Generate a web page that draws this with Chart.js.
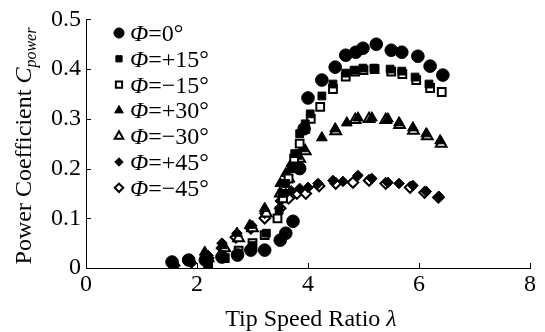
<!DOCTYPE html>
<html>
<head>
<meta charset="utf-8">
<script src="https://cdn.jsdelivr.net/npm/chart.js@4/dist/chart.umd.min.js"></script>
<style>
  html, body { margin: 0; padding: 0; background: #fff; }
  #wrap { width: 545px; height: 332px; }
</style>
</head>
<body>
<div id="wrap"><canvas id="cp"></canvas></div>
<script>
// tip speed ratio / power coefficient
const lam0   = [1.55, 1.85, 2.15, 2.45, 2.73, 2.97, 3.22, 3.5, 3.6, 3.73, 3.85, 3.93, 4.0, 4.25, 4.49, 4.68, 4.86, 4.99, 5.23, 5.5, 5.69, 5.98, 6.2, 6.43];
const cp0    = [0.012, 0.016, 0.016, 0.022, 0.026, 0.036, 0.036, 0.056, 0.07, 0.094, 0.2, 0.28, 0.342, 0.378, 0.404, 0.428, 0.434, 0.442, 0.45, 0.438, 0.434, 0.426, 0.406, 0.388];

const lamP15 = [2.2, 2.5, 2.75, 3.0, 3.25, 3.48, 3.53, 3.6, 3.7, 3.76, 3.85, 3.95, 4.04, 4.25, 4.45, 4.68, 4.83, 4.99, 5.19, 5.48, 5.69, 5.93, 6.18];
const cpP15  = [0.012, 0.02, 0.03, 0.045, 0.07, 0.116, 0.15, 0.17, 0.2, 0.23, 0.27, 0.29, 0.31, 0.346, 0.37, 0.392, 0.398, 0.402, 0.402, 0.4, 0.396, 0.384, 0.37];

const lamM15 = [2.2, 2.5, 2.75, 3.0, 3.22, 3.45, 3.55, 3.65, 3.75, 3.85, 3.95, 4.05, 4.22, 4.45, 4.68, 4.85, 5.0, 5.2, 5.5, 5.7, 5.95, 6.2, 6.41];
const cpM15  = [0.01, 0.02, 0.035, 0.05, 0.066, 0.1, 0.14, 0.18, 0.22, 0.25, 0.28, 0.3, 0.324, 0.36, 0.385, 0.395, 0.398, 0.4, 0.395, 0.39, 0.378, 0.362, 0.354];

const lamP30 = [1.6, 1.9, 2.14, 2.45, 2.72, 2.95, 3.22, 3.5, 3.6, 3.7, 3.8, 3.9, 4.25, 4.49, 4.7, 4.9, 5.15, 5.44, 5.64, 5.89, 6.13, 6.38];
const cpP30  = [0.01, 0.015, 0.032, 0.045, 0.07, 0.086, 0.12, 0.17, 0.19, 0.21, 0.225, 0.24, 0.262, 0.28, 0.292, 0.302, 0.302, 0.3, 0.292, 0.282, 0.27, 0.256];

const lamM30 = [2.2, 2.5, 2.75, 3.0, 3.25, 3.5, 3.65, 3.75, 3.85, 3.95, 4.5, 4.85, 5.1, 5.4, 5.65, 5.9, 6.15, 6.4];
const cpM30  = [0.02, 0.04, 0.06, 0.08, 0.11, 0.15, 0.18, 0.2, 0.22, 0.235, 0.275, 0.298, 0.3, 0.298, 0.288, 0.276, 0.265, 0.25];

const lamP45 = [1.6, 1.9, 2.2, 2.45, 2.72, 2.99, 3.22, 3.5, 3.6, 3.7, 3.85, 4.0, 4.18, 4.45, 4.63, 4.9, 5.15, 5.44, 5.64, 5.89, 6.13, 6.36];
const cpP45  = [0.005, 0.01, 0.025, 0.05, 0.07, 0.085, 0.11, 0.135, 0.15, 0.155, 0.16, 0.162, 0.17, 0.176, 0.174, 0.186, 0.18, 0.172, 0.17, 0.166, 0.154, 0.144];

const lamM45 = [2.2, 2.45, 2.7, 2.97, 3.22, 3.5, 3.65, 3.8, 3.96, 4.2, 4.5, 4.81, 5.1, 5.4, 5.84, 6.1, 6.35];
const cpM45  = [0.02, 0.04, 0.062, 0.08, 0.1, 0.12, 0.14, 0.15, 0.15, 0.165, 0.17, 0.172, 0.176, 0.17, 0.162, 0.152, 0.142];

const labels = ['=0°', '=+15°', '=\u221215°', '=+30°', '=\u221230°', '=+45°', '=\u221245°'];
const xTicks = [0, 2, 4, 6, 8];
const yTicks = [0, 0.1, 0.2, 0.3, 0.4, 0.5];

const serif = '"Liberation Serif", "DejaVu Serif", serif';

function pts(xs, ys) { return xs.map((x, i) => ({ x: x, y: ys[i] })); }

function series(label, xs, ys, style, r, hollow) {
    return {
        label: label,
        data: pts(xs, ys),
        pointStyle: style,
        pointRadius: r,
        pointHoverRadius: r,
        backgroundColor: hollow ? '#fff' : '#000',
        borderColor: '#000',
        borderWidth: hollow ? 2 : 1,
        showLine: false
    };
}

const datasets = [
    series(labels[0], lam0, cp0, 'circle', 6.3, false),
    series(labels[1], lamP15, cpP15, 'rect', 5.5, false),
    series(labels[2], lamM15, cpM15, 'rect', 5.5, true),
    series(labels[3], lamP30, cpP30, 'triangle', 6.2, false),
    series(labels[4], lamM30, cpM30, 'triangle', 6.2, true),
    series(labels[5], lamP45, cpP45, 'rectRot', 5.3, false),
    series(labels[6], lamM45, cpM45, 'rectRot', 5.3, true)
];

// axis titles, inward ticks and the legend box inside the plot
const extras = {
    id: 'extras',
    afterDraw(chart) {
        const ctx = chart.ctx;
        const xs = chart.scales.x, ys = chart.scales.y;
        const a = chart.chartArea;
        ctx.save();
        ctx.strokeStyle = '#000';
        ctx.lineWidth = 1;
        ctx.beginPath();
        xTicks.forEach(v => {
            const px = Math.round(xs.getPixelForValue(v)) + 0.5;
            ctx.moveTo(px, a.bottom); ctx.lineTo(px, a.bottom - 5);
        });
        yTicks.forEach(v => {
            const py = Math.round(ys.getPixelForValue(v)) + 0.5;
            ctx.moveTo(a.left, py); ctx.lineTo(a.left + 5, py);
        });
        ctx.stroke();

        ctx.fillStyle = '#000';
        ctx.textBaseline = 'alphabetic';

        // x title
        const t1 = 'Tip Speed Ratio ';
        ctx.font = 'italic 24px ' + serif;
        const wl = ctx.measureText('\u03bb').width;
        ctx.font = '24px ' + serif;
        const w1 = ctx.measureText(t1).width;
        let x0 = 311 - (w1 + wl) / 2;
        ctx.fillText(t1, x0, 326);
        ctx.font = 'italic 24px ' + serif;
        ctx.fillText('\u03bb', x0 + w1, 326);

        // y title (rotated)
        ctx.save();
        ctx.translate(31, 146);
        ctx.rotate(-Math.PI / 2);
        ctx.font = '24px ' + serif;
        const t2 = 'Power Coefficient ';
        const w2 = ctx.measureText(t2).width;
        ctx.font = 'italic 24px ' + serif;
        const wc = ctx.measureText('C').width;
        ctx.font = 'italic 16px ' + serif;
        const ws = ctx.measureText('power').width;
        let y0 = -(w2 + wc + ws) / 2;
        ctx.font = '24px ' + serif;
        ctx.fillText(t2, y0, 0);
        ctx.font = 'italic 24px ' + serif;
        ctx.fillText('C', y0 + w2, 0);
        ctx.font = 'italic 16px ' + serif;
        ctx.fillText('power', y0 + w2 + wc, 5);
        ctx.restore();

        // legend
        chart.data.datasets.forEach((ds, i) => {
            const cy = 33 + i * 25.8;
            const cx = 119;
            ctx.save();
            ctx.fillStyle = ds.backgroundColor;
            ctx.strokeStyle = ds.borderColor;
            ctx.lineWidth = ds.borderWidth;
            Chart.helpers.drawPoint(ctx, {
                pointStyle: ds.pointStyle,
                radius: ds.pointRadius * 0.8,
                borderWidth: ds.borderWidth,
                rotation: 0
            }, cx, cy);
            ctx.restore();
            ctx.font = 'italic 24px ' + serif;
            ctx.fillText('\u03a6', 130, cy + 8);
            const wp = ctx.measureText('\u03a6').width;
            ctx.font = '24px ' + serif;
            ctx.fillText(ds.label, 130 + wp, cy + 8);
        });
        ctx.restore();
    }
};

new Chart(document.getElementById('cp'), {
    type: 'scatter',
    data: { datasets: datasets },
    options: {
        responsive: true,
        maintainAspectRatio: false,
        animation: false,
        layout: { padding: { left: 0, right: 15, top: 18, bottom: 0 } },
        plugins: { legend: { display: false }, tooltip: { enabled: false } },
        scales: {
            x: {
                type: 'linear', min: 0, max: 8,
                afterFit: s => { s.height = 64; },
                afterBuildTicks: s => { s.ticks = xTicks.map(v => ({ value: v })); },
                grid: { display: true, drawOnChartArea: false, drawTicks: false, color: '#000' },
                border: { display: true, color: '#000', width: 1 },
                ticks: { color: '#000', padding: 2, font: { family: serif, size: 24 } }
            },
            y: {
                type: 'linear', min: 0, max: 0.5,
                afterFit: s => { s.width = 86; },
                afterBuildTicks: s => { s.ticks = yTicks.map(v => ({ value: v })); },
                grid: { display: true, drawOnChartArea: false, drawTicks: false, color: '#000' },
                border: { display: true, color: '#000', width: 1 },
                ticks: {
                    color: '#000', padding: 5, font: { family: serif, size: 24 },
                    callback: v => v === 0 ? '0' : v.toFixed(1)
                }
            }
        }
    },
    plugins: [extras]
});
</script>
</body>
</html>
